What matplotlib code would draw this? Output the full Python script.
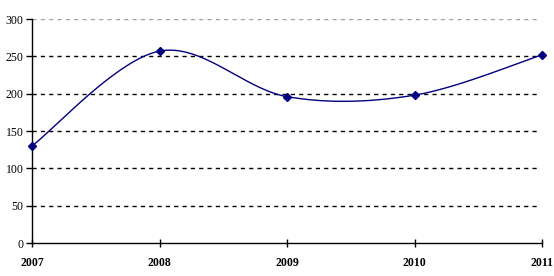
import numpy as np
import matplotlib
matplotlib.use('Agg')
import matplotlib.pyplot as plt

years = [2007, 2008, 2009, 2010, 2011]
values = [130, 257, 196, 198, 252]
yticks = [0, 50, 100, 150, 200, 250, 300]


def smooth(xs, ys, n=40):
    # excel-like smoothed line: bezier with catmull-rom control points
    xs = np.asarray(xs, float)
    ys = np.asarray(ys, float)
    px = np.concatenate([[xs[0]], xs, [xs[-1]]])
    py = np.concatenate([[ys[0]], ys, [ys[-1]]])
    outx, outy = [], []
    t = np.linspace(0, 1, n)
    for i in range(1, len(px) - 2):
        p0 = np.array([px[i], py[i]])
        p3 = np.array([px[i + 1], py[i + 1]])
        c1 = p0 + (np.array([px[i + 1], py[i + 1]]) - np.array([px[i - 1], py[i - 1]])) / 6
        c2 = p3 - (np.array([px[i + 2], py[i + 2]]) - np.array([px[i], py[i]])) / 6
        b = ((1 - t) ** 3)[:, None] * p0 + (3 * (1 - t) ** 2 * t)[:, None] * c1 \
            + (3 * (1 - t) * t ** 2)[:, None] * c2 + (t ** 3)[:, None] * p3
        outx.extend(b[:, 0])
        outy.extend(b[:, 1])
    return outx, outy


fig = plt.figure(figsize=(5.54, 2.76), dpi=100)
ax = fig.add_axes([32 / 554, 33 / 276, 510 / 554, 224 / 276])

for y in yticks[1:]:
    col = '#a0a0a0' if y == 300 else 'black'
    ax.plot([2007, 2010.98], [y, y], color=col, lw=1, ls=(0, (3, 3)), zorder=1)

sx, sy = smooth(years, values)
ax.plot(sx, sy, color='#000080', lw=1, zorder=3)
ax.plot(years, values, ls='none', marker='D', ms=4.5, color='#000080', zorder=4,
        clip_on=False)

ax.set_xlim(2007, 2011)
ax.set_ylim(0, 300)
ax.set_xticks(years)
ax.set_yticks(yticks)
ax.set_xticklabels([str(y) for y in years], fontfamily='Liberation Serif',
                   fontweight='bold', fontsize=8.5)
ax.set_yticklabels([str(y) for y in yticks], fontfamily='Liberation Serif', fontsize=8.5)
ax.tick_params(axis='x', direction='inout', length=6, width=1, pad=7)
ax.tick_params(axis='y', direction='out', length=4, width=1, pad=2)
for s in ['top', 'right']:
    ax.spines[s].set_visible(False)
ax.spines['left'].set_linewidth(1)
ax.spines['bottom'].set_linewidth(1)
ax.spines['bottom'].set_zorder(5)

fig.savefig('out.png', dpi=100)
